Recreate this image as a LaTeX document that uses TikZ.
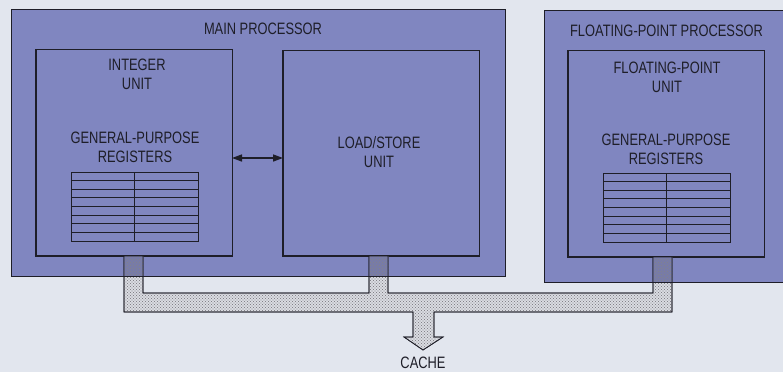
\documentclass[tikz,border=0pt]{standalone}
\usepackage{fontspec}
\setmainfont[FakeStretch=0.78]{Liberation Sans}
\usetikzlibrary{patterns,arrows.meta,calc}
\definecolor{bgc}{RGB}{226,230,238}
\definecolor{boxblue}{RGB}{128,134,192}
\definecolor{buslight}{RGB}{222,224,230}
\definecolor{stubblue}{RGB}{118,122,172}
\definecolor{ink}{RGB}{30,30,40}
\pgfdeclarepatternformonly{busdotpat}{\pgfqpoint{-1pt}{-1pt}}{\pgfqpoint{4pt}{4pt}}{\pgfqpoint{3pt}{3pt}}{%
  \pgfpathcircle{\pgfqpoint{0pt}{0pt}}{0.55pt}%
  \pgfpathcircle{\pgfqpoint{1.5pt}{1.5pt}}{0.55pt}%
  \pgfusepath{fill}}
\begin{document}
\begin{tikzpicture}[x=1pt,y=-1pt,
  procbox/.style={draw=ink,line width=0.8pt,fill=boxblue,inner sep=0pt,outer sep=0pt},
  unitbox/.style={draw=ink,line width=0.8pt,inner sep=0pt,outer sep=0pt},
  regbox/.style={draw=ink,line width=0.8pt,inner sep=0pt,outer sep=0pt,minimum width=127pt,minimum height=69pt},
  lbl/.style={text=ink,align=center,inner sep=0pt,font=\fontsize{16.5}{19}\selectfont},
  busline/.style={draw=ink,line width=0.7pt,fill=buslight},
  busdots/.style={pattern=busdotpat,pattern color=ink!55},
  dbl/.style={{Triangle[length=10pt,width=7pt]}-{Triangle[length=10pt,width=7pt]},line width=1.5pt,draw=ink}
]
\useasboundingbox (0,0) rectangle (783,372);
\fill[bgc] (0,0) rectangle (783,372);

% processors
\node[procbox,minimum width=494pt,minimum height=267pt] (main) at (258,142.5) {};
\node[procbox,minimum width=246pt,minimum height=272pt] (fpp) at (667,146) {};

% units
\node[unitbox,minimum width=196pt,minimum height=207pt] (int) at (134,152.5) {};
\node[unitbox,minimum width=196pt,minimum height=206pt] (ls) at (381,153) {};
\node[unitbox,minimum width=196pt,minimum height=207pt] (fpu) at (666,153.5) {};
\foreach \u in {int,ls,fpu}{
  \draw[ink,line width=1.8pt] (\u.north west) -- (\u.south west) -- (\u.south east);
}

% register tables
\node[regbox] (ireg) at (134.5,206.5) {};
\node[regbox] (freg) at (666.5,207.5) {};
\foreach \r/\m in {ireg/63.5,freg/63}{
  \foreach \i in {1,...,7}{
    \draw[ink,line width=0.8pt] ($(\r.north west)+(0,\i*8.625)$) -- ++(127,0);
  }
  \draw[ink,line width=0.8pt] ($(\r.north west)+(\m,0)$) -- ($(\r.south west)+(\m,0)$);
}

% labels
\node[lbl] (tmain) at (263,29) {MAIN PROCESSOR};
\node[lbl] (tfpp) at (666.5,31) {FLOATING-POINT PROCESSOR};
\node[lbl] (tint) at (137,74.5) {INTEGER\\UNIT};
\node[lbl] (tigpr) at (135,147) {GENERAL-PURPOSE\\REGISTERS};
\node[lbl] (tls) at (379,152.5) {LOAD/STORE\\UNIT};
\node[lbl] (tfpu) at (667,77.5) {FLOATING-POINT\\UNIT};
\node[lbl] (tfgpr) at (666,149.5) {GENERAL-PURPOSE\\REGISTERS};
\node[lbl] (tcache) at (423,363) {CACHE};

% double arrow
\coordinate (ay) at (0,158);
\draw[dbl] (int.east |- ay) -- (ls.west |- ay);

% bus
\def\buspath{(124,256) -- (124,312) -- (413,312) -- (413,337) -- (404,337) -- (423,350) -- (443,337) -- (434,337) -- (434,312) -- (672,312) -- (672,257) -- (653,257) -- (653,293) -- (388,293) -- (388,256) -- (369,256) -- (369,293) -- (143,293) -- (143,256) -- cycle}
\path[busline] \buspath;
\fill[busdots] \buspath;
\foreach \a/\b/\c/\d in {124/256/143/276, 369/256/388/276, 653/257/672/282}{
  \fill[stubblue] (\a,\b) rectangle (\c,\d);
  \fill[busdots] (\a,\b) rectangle (\c,\d);
}
\draw[ink,line width=0.7pt] \buspath;
\draw[ink,line width=0.8pt] (main.south west) -- (main.south east);
\draw[ink,line width=0.8pt] (fpp.south west) -- (fpp.south east);
\end{tikzpicture}
\end{document}
